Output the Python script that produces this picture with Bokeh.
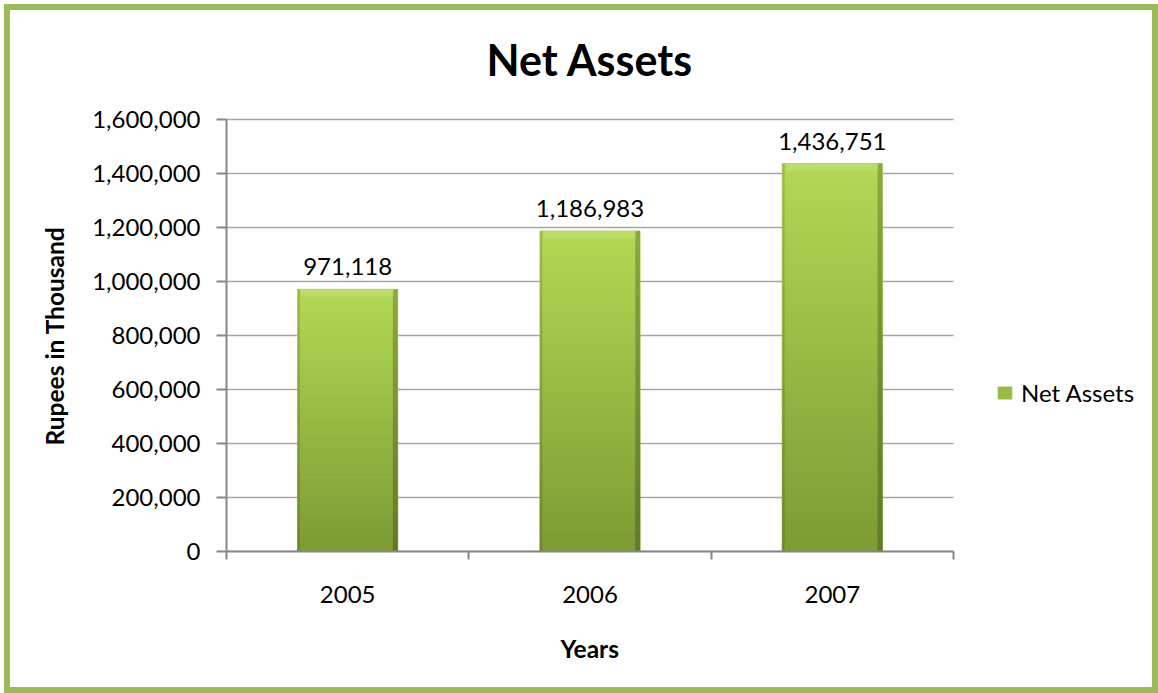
import numpy as np
from bokeh.plotting import figure
from bokeh.models import (Range1d, FixedTicker, NumeralTickFormatter, Legend,
                          LegendItem, ColumnDataSource, LabelSet, Label, Title)
from bokeh.core.properties import value
from bokeh.embed import file_html
from bokeh.resources import INLINE

# ---- data ----
years = ["2005", "2006", "2007"]
net_assets = [971118, 1186983, 1436751]
y_ticks = [0, 200000, 400000, 600000, 800000, 1000000, 1200000, 1400000, 1600000]
series_name = "Net Assets"
chart_title = "Net Assets"
x_title = "Years"
y_title = "Rupees in Thousand"

# ---- style / layout constants ----
FONT = "Lato"
W, H = 1154, 689          # host box (border-box), placed 4px from page edge
LEFT, BOTTOM = 216, 148
PLOT_W, PLOT_H = 727, 432  # size of the value area in px
FRAME_W = W - LEFT         # frame extends to the right edge (legend lives there)
FRAME_H = H - BOTTOM       # frame extends to the top edge (title lives there)
X_END = len(years) * FRAME_W / PLOT_W
Y_END = y_ticks[-1] * FRAME_H / PLOT_H
BAR_W = 0.413
AXIS_C = "#868686"
GRID_C = "#A6A6A6"
BORDER_C = "#9BBB59"
TOP_C = np.array([0xB3, 0xD9, 0x55])
BOT_C = np.array([0x7C, 0x9C, 0x34])

p = figure(width=W, height=H, output_backend="svg", toolbar_location=None,
           title=None,
           x_range=Range1d(0, X_END), y_range=Range1d(0, Y_END),
           min_border_left=LEFT, min_border_right=0,
           min_border_top=0, min_border_bottom=BOTTOM)
p.styles = {"border": "6px solid " + BORDER_C, "margin": "4px 0 0 4px"}
p.outline_line_color = None
p.background_fill_color = "white"
p.border_fill_color = "white"

# chart title, centred over the category area
p.add_layout(Label(x=len(years) / 2, y=y_ticks[-1], y_offset=60, text=chart_title,
                   text_align="center", text_baseline="alphabetic",
                   text_font=FONT, text_font_style="bold", text_font_size="43px",
                   text_color="black"))

# x axis: labels at category centres, ticks at category boundaries
xpos = np.arange(len(years)) + 0.5
p.xaxis.bounds = (0, len(years))
p.xaxis.ticker = FixedTicker(ticks=[float(v) for v in xpos],
                             minor_ticks=[float(v) for v in range(len(years) + 1)])
p.xaxis.major_label_overrides = {float(v): yr for v, yr in zip(xpos, years)}
p.xaxis.major_tick_line_color = None
p.xaxis.major_tick_out = 0
p.xaxis.major_tick_in = 0
p.xaxis.minor_tick_line_color = AXIS_C
p.xaxis.minor_tick_line_width = 2
p.xaxis.minor_tick_out = 8
p.xaxis.minor_tick_in = 0
p.xaxis.axis_line_color = AXIS_C
p.xaxis.axis_line_width = 2
p.xaxis.major_label_text_font = FONT
p.xaxis.major_label_text_font_size = "24px"
p.xaxis.major_label_text_color = "black"
p.xaxis.major_label_standoff = 26

# x axis title
p.add_layout(Title(text=x_title, align="left", offset=334, vertical_align="top",
                   standoff=57, text_font=FONT, text_font_style="bold",
                   text_font_size="24.5px", text_color="black"), "below")

# y axis
p.yaxis.bounds = (0, y_ticks[-1])
p.yaxis.ticker = FixedTicker(ticks=y_ticks, minor_ticks=[])
p.yaxis.formatter = NumeralTickFormatter(format="0,0")
p.yaxis.major_tick_out = 10
p.yaxis.major_tick_in = 0
p.yaxis.major_tick_line_color = AXIS_C
p.yaxis.major_tick_line_width = 2
p.yaxis.minor_tick_line_color = None
p.yaxis.axis_line_color = AXIS_C
p.yaxis.axis_line_width = 2
p.yaxis.major_label_text_font = FONT
p.yaxis.major_label_text_font_size = "24px"
p.yaxis.major_label_text_color = "black"
p.yaxis.major_label_standoff = 16

# y axis title (rotated, centred on the value area)
p.add_layout(Title(text=y_title, align="left", offset=106, vertical_align="bottom",
                   standoff=42, text_font=FONT, text_font_style="bold",
                   text_font_size="24.5px", text_color="black"), "left")

# horizontal gridlines limited to the category area
p.xgrid.grid_line_color = None
p.ygrid.grid_line_color = None
p.segment(x0=[0] * len(y_ticks), x1=[len(years)] * len(y_ticks),
          y0=y_ticks, y1=y_ticks, line_color=GRID_C, line_width=1.5,
          level="underlay")

# ---- bars with vertical gradient (slices computed from each value) ----
n = 60
xs, bots, tops, cols = [], [], [], []
for x, v in zip(xpos, net_assets):
    for i in range(n):
        t = (i + 0.5) / n
        c = (BOT_C + (TOP_C - BOT_C) * t).astype(int)
        xs.append(float(x))
        bots.append(v * i / n)
        tops.append(v * (i + 1) / n)
        cols.append("#%02x%02x%02x" % tuple(c))
src = ColumnDataSource(dict(x=xs, bottom=bots, top=tops, color=cols))
bar_r = p.vbar(x="x", bottom="bottom", top="top", width=BAR_W, source=src,
               fill_color="color", line_color="color", line_width=1)

bar_src = ColumnDataSource(dict(x=[float(v) for v in xpos], top=net_assets,
                                label=["{:,}".format(v) for v in net_assets]))
edge_w = 0.02
cap_h = 7 * y_ticks[-1] / PLOT_H
# right edge shade
p.vbar(x=[float(v) + BAR_W / 2 - edge_w / 2 for v in xpos], top=net_assets,
       width=edge_w, fill_color="black", fill_alpha=0.22, line_color=None)
# left edge shade
p.vbar(x=[float(v) - BAR_W / 2 + edge_w / 4 for v in xpos], top=net_assets,
       width=edge_w / 2, fill_color="black", fill_alpha=0.12, line_color=None)
# top bevel highlight
p.vbar(x=[float(v) for v in xpos], top=net_assets,
       bottom=[v - cap_h for v in net_assets],
       width=BAR_W - edge_w * 1.5, fill_color="white", fill_alpha=0.14, line_color=None)

labels = LabelSet(x="x", y="top", text="label", source=bar_src,
                  text_align="center", text_baseline="alphabetic", y_offset=14,
                  text_font=value(FONT), text_font_size=value("24px"),
                  text_color="black")
p.add_layout(labels)

# legend (inside the frame, right of the category area)
legend = Legend(items=[LegendItem(label=series_name, renderers=[bar_r], index=n // 2)],
                location=(770, 144), glyph_width=17, glyph_height=15,
                label_standoff=8, padding=0, margin=0, spacing=0,
                border_line_color=None, background_fill_alpha=0,
                label_text_font=FONT, label_text_font_size="24px",
                label_text_color="black")
p.add_layout(legend)

open("out.html", "w").write(file_html(p, INLINE))
